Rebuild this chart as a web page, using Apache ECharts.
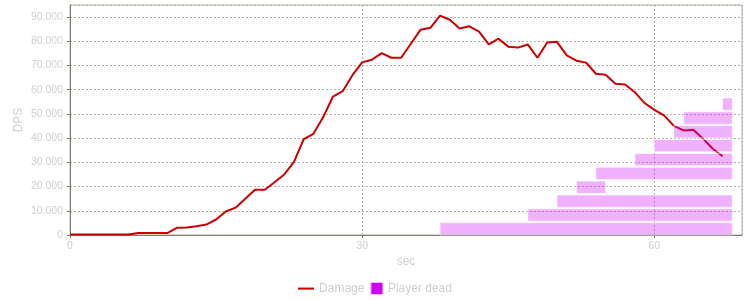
<!DOCTYPE html>
<html>
<head>
<meta charset="utf-8">
<script src="https://cdn.jsdelivr.net/npm/echarts@6/dist/echarts.min.js"></script>
<style>html,body{margin:0;padding:0;background:#fff;}#c{width:750px;height:300px;}</style>
</head>
<body>
<div id="c"></div>
<script>
// Damage series: time (sec) and DPS values
var seconds = [0,1,2,3,4,5,6,7,8,9,10,11,12,13,14,15,16,17,18,19,20,21,22,23,24,25,26,27,28,29,30,31,32,33,34,35,36,37,38,39,40,41,42,43,44,45,46,47,48,49,50,51,52,53,54,55,56,57,58,59,60,61,62,63,64,65,66,67];
var damage = [200,200,200,200,200,200,200,800,800,800,800,3000,3100,3600,4300,6400,9700,11300,15000,18700,18700,21800,25000,30200,39600,41800,48700,57200,59400,66000,71300,72400,75100,73200,73200,79000,84800,85600,90600,88900,85300,86200,84000,78700,81100,77800,77400,78700,73200,79500,79800,74200,72000,71200,66600,66200,62500,62200,59000,54500,51700,49400,45100,43200,43500,39800,35600,32600];
// Player dead intervals (sec), one row each
var deadStart = [38,47,50,52,54,58,60,62,63,67];
var deadEnd   = [68,68,68,55,68,68,68,68,68,68];
var deadRow   = [0,1,2,3,4,5,6,7,8,9];
// axis ticks
var xTicks = [0,30,60];
var yTicks = [0,10000,20000,30000,40000,50000,60000,70000,80000,90000];

var lineData = seconds.map(function(s,i){return [s, damage[i]];});
var deadData = deadStart.map(function(s,i){return [s, deadEnd[i], deadRow[i]];});
var BAR_H = 0.89;
var txt = '#cfcfcf';
function fmt(v){ return String(Math.round(v)).replace(/\B(?=(\d{3})+(?!\d))/g,'.'); }

var chart = echarts.init(document.getElementById('c'));
chart.setOption({
  animation:false,
  backgroundColor:'#fff',
  textStyle:{fontFamily:'Liberation Sans, Arial, sans-serif'},
  grid:{left:70,right:8,top:5,bottom:65,show:true,borderColor:'#b3b0a0',borderWidth:1,backgroundColor:'#fff'},
  legend:{
    bottom:0,left:'center',itemWidth:16,itemHeight:12,itemGap:2,
    textStyle:{color:txt,fontSize:12,fontFamily:'Liberation Sans, Arial, sans-serif'},
    data:[
      {name:'Damage',icon:'path://M0,0 L0,0 M0,5 L17,5 L17,7.2 L0,7.2 Z M17,12 L17,12'},
      {name:'Player dead',icon:'path://M0,0 L0,0 M4,0 L16,0 L16,12 L4,12 Z',itemStyle:{color:'#cc00ff',borderColor:'#f0b8ff',borderWidth:1}}
    ]
  },
  xAxis:{
    type:'value',min:0,max:69,interval:30,
    name:'sec',nameLocation:'middle',nameGap:21,nameMoveOverlap:false,
    nameTextStyle:{color:txt,fontSize:12},
    axisLine:{lineStyle:{color:'#7f7c6c',width:1}},
    axisTick:{show:true,length:3,lineStyle:{color:'#7f7c6c'}},
    axisLabel:{color:txt,fontSize:10.5,margin:6,showMaxLabel:false,
      formatter:function(v){return xTicks.indexOf(v)>=0?String(v):'';}},
    splitLine:{show:true,lineStyle:{color:'#b4b2a6',type:[2,2],width:1}}
  },
  yAxis:[{
    type:'value',min:0,max:95000,interval:10000,
    name:'DPS',nameLocation:'middle',nameGap:45,nameMoveOverlap:false,
    nameTextStyle:{color:txt,fontSize:12},
    axisLine:{show:true,lineStyle:{color:'#7f7c6c',width:1}},
    axisTick:{show:true,length:3,lineStyle:{color:'#7f7c6c'}},
    axisLabel:{color:txt,fontSize:10.5,margin:7,showMaxLabel:false,
      formatter:function(v){return yTicks.indexOf(v)>=0?fmt(v):'';}},
    splitLine:{show:true,lineStyle:{color:'#b4b2a6',type:[2,2],width:1}}
  },{
    type:'value',min:0,max:16.6,show:false,
    axisLine:{show:false},axisTick:{show:false},axisLabel:{show:false},splitLine:{show:false}
  }],
  series:[{
    name:'Damage',type:'line',data:lineData,symbol:'none',z:2,
    lineStyle:{color:'#cc0000',width:2},itemStyle:{color:'#cc0000'}
  },{
    name:'Player dead',type:'custom',xAxisIndex:0,yAxisIndex:1,z:3,
    itemStyle:{color:'#cc00ff'},
    data:deadData,
    encode:{x:[0,1],y:2},
    renderItem:function(params,api){
      var s = api.coord([api.value(0), api.value(2)]);
      var e = api.coord([api.value(1), api.value(2)+BAR_H]);
      return {type:'rect',shape:{x:s[0],y:e[1],width:e[0]-s[0],height:s[1]-e[1]},
        style:{fill:'rgba(204,0,255,0.3)',stroke:'rgba(255,255,255,0.6)',lineWidth:1}};
    }
  }]
});
</script>
</body>
</html>
